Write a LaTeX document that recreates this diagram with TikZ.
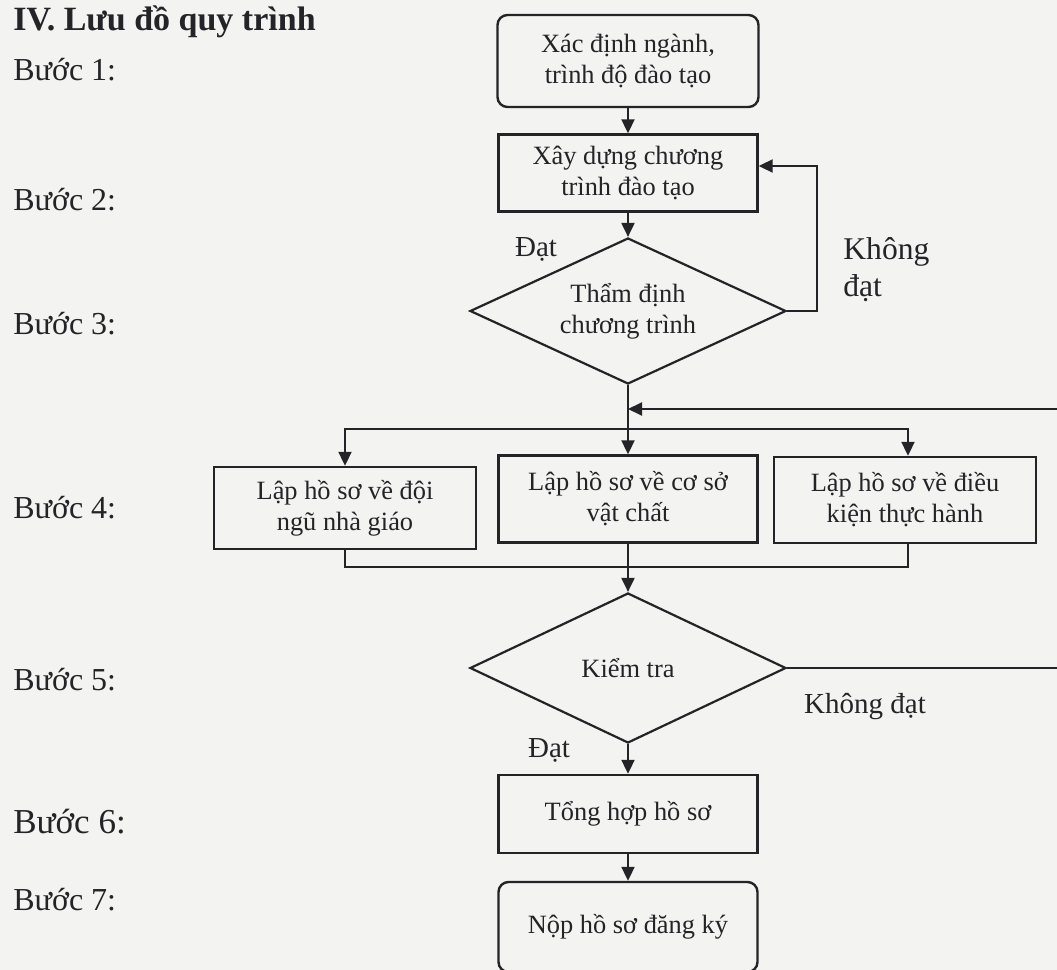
\documentclass[tikz,border=0pt]{standalone}
\usepackage{fontspec}
\setmainfont{Liberation Serif}
\usepackage{tikz}
\usetikzlibrary{positioning, shapes.geometric, arrows.meta}
\definecolor{paper}{RGB}{243,243,241}
\definecolor{ink}{RGB}{35,35,40}
\tikzstyle{processBox}=[draw=ink, line width=1.2pt, rectangle, align=center, inner sep=0pt, text=ink, font=\fontsize{13.2}{15.6}\selectfont]
\tikzstyle{terminalBox}=[processBox, rounded corners=5pt]
\tikzstyle{decisionNode}=[draw=ink, line width=1.1pt, diamond, aspect=2, inner sep=0pt, align=center, text=ink, font=\fontsize{13.2}{15.6}\selectfont, minimum width=158pt, minimum height=73pt]
\tikzstyle{flowLine}=[draw=ink, line width=1pt]
\tikzstyle{flowArrow}=[flowLine, -{Triangle[length=7pt,width=6.5pt]}]
\tikzstyle{stepLabel}=[anchor=west, inner sep=0pt, text=ink, font=\fontsize{16}{19}\selectfont]
\tikzstyle{branchLabel}=[inner sep=0pt, text=ink, font=\fontsize{14.5}{18.5}\selectfont]

\begin{document}
\begin{tikzpicture}[x=0.5pt, y=-0.5pt]
    \fill[paper] (0,0) rectangle (1057,970);
    \useasboundingbox (0,0) rectangle (1057,970);

    % heading
    \node[anchor=base west, inner sep=0pt, text=ink, font=\bfseries\fontsize{17}{20}\selectfont] (title) at (13,30) {IV. Lưu đồ quy trình};

    \node[stepLabel] (step1) at (13,70) {Bước 1:};
    \node[stepLabel] (step2) at (13,200) {Bước 2:};
    \node[stepLabel] (step3) at (13,324) {Bước 3:};
    \node[stepLabel] (step4) at (13,508) {Bước 4:};
    \node[stepLabel] (step5) at (13,680) {Bước 5:};
    \node[stepLabel, font=\fontsize{17.5}{20}\selectfont] (step6) at (13,822) {Bước 6:};
    \node[stepLabel] (step7) at (13,900) {Bước 7:};

    \node[terminalBox, minimum width=130.5pt, minimum height=46pt] (define) at (628,61) {Xác định ngành,\\trình độ đào tạo};
    \node[processBox, minimum width=129.5pt, minimum height=38.5pt] (build) at (628,173) {Xây dựng chương\\trình đào tạo};
    \node[decisionNode] (appraise) at (628,311) {Thẩm định\\chương trình};
    \node[processBox, minimum width=131pt, minimum height=41pt] (staff) at (345,508) {Lập hồ sơ về đội\\ngũ nhà giáo};
    \node[processBox, minimum width=129.5pt, minimum height=43.5pt] (facility) at (628,499) {Lập hồ sơ về cơ sở\\vật chất};
    \node[processBox, minimum width=131pt, minimum height=43pt] (practice) at (905,500) {Lập hồ sơ về điều\\kiện thực hành};
    \node[decisionNode, minimum height=75pt] (check) at (628,668) {Kiểm tra};
    \node[processBox, minimum width=129.5pt, minimum height=39pt] (collect) at (628,814) {Tổng hợp hồ sơ};
    \node[terminalBox, minimum width=129.5pt, minimum height=45pt] (submit) at (628,927) {Nộp hồ sơ đăng ký};

    \coordinate (loopTop) at (817,166);
    \coordinate (split) at (628,429);
    \coordinate (join) at (628,567);
    \coordinate (returnTop) at (1080,409);

    \draw[flowArrow] (define) -- (build);
    \draw[flowArrow] (build) -- (appraise);
    \draw[flowArrow] (appraise.east) -| (loopTop) -- (build.east |- loopTop);
    \draw[flowLine] (appraise.south) -- (split);
    \draw[flowArrow] (split) -| (staff.north);
    \draw[flowArrow] (split) -- (facility.north);
    \draw[flowArrow] (split) -| ([xshift=1.5pt]practice.north);
    \draw[flowLine] (staff.south) |- (join);
    \draw[flowLine] ([xshift=1.5pt]practice.south) |- (join);
    \draw[flowArrow] (facility.south) -- (check.north);
    \draw[flowArrow] (check.east) -| (returnTop) -- (split |- returnTop);
    \draw[flowArrow] (check.south) -- (collect.north);
    \draw[flowArrow] (collect.south) -- (submit.north);

    \node[branchLabel] (passA) at (536,249) {Đạt};
    \node[branchLabel, anchor=west, align=left, font=\fontsize{15.8}{18.5}\selectfont] (failA) at (843,270) {Không\\đạt};
    \node[branchLabel] (passB) at (549,750) {Đạt};
    \node[branchLabel] (failB) at (865,707) {Không đạt};
\end{tikzpicture}
\end{document}
